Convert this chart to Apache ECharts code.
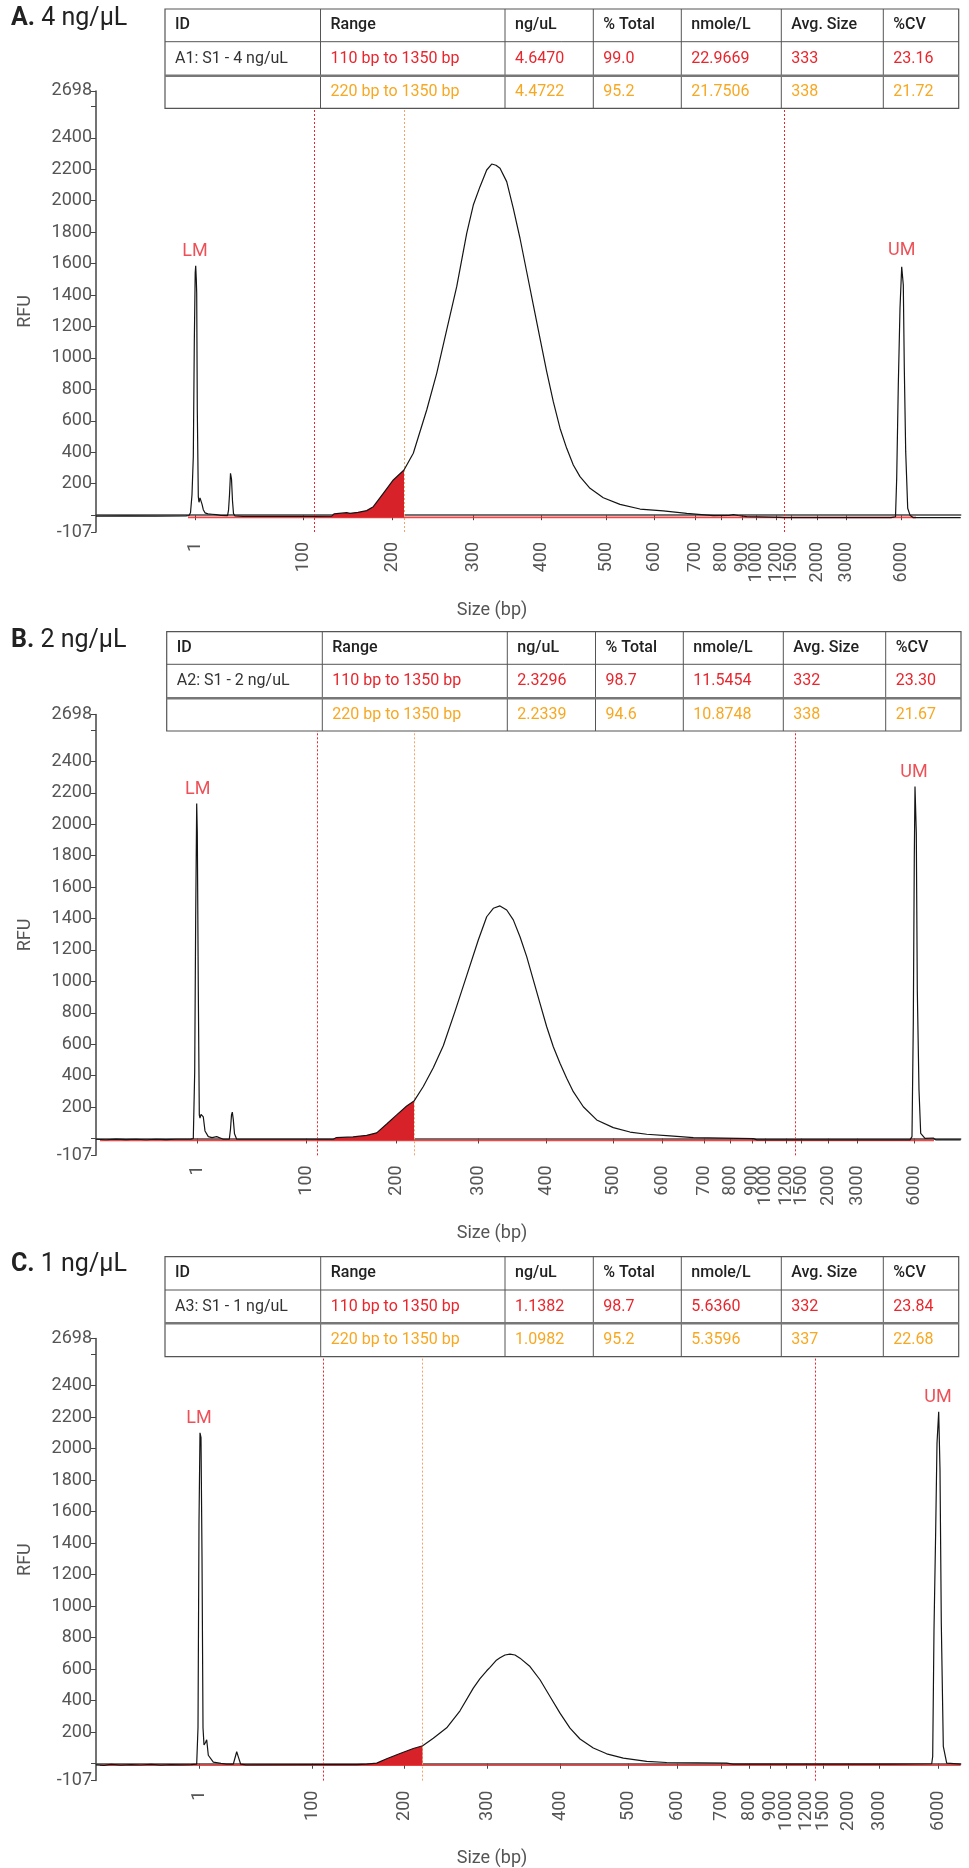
<!DOCTYPE html>
<html><head><meta charset="utf-8">
<script src="https://cdn.jsdelivr.net/npm/echarts@6/dist/echarts.min.js"></script>
<style>html,body{margin:0;padding:0;background:#fff}#c{width:969px;height:1868px}</style>
</head><body><div id="c"></div>
<script>
// ---------------- DATA ----------------
// size ladder labels (bp) and their migration positions in each run
const sizeLabels = ['1','100','200','300','400','500','600','700','800','900','1000','1200','1500','2000','3000','6000'];
const ladderA = [99,207.3,296.3,377.3,445,510,558,599,625.3,646.3,660,680,695.7,721.7,750,805.7];
const ladderB = [101.7,210,300.7,382.3,450,517.3,566,608,634.7,656,669.7,690,705.7,732.3,761.7,818];
const ladderC = [103,216.3,308.3,391.3,464,532.7,581.7,625.3,653.3,674.7,690,710,727.3,752.7,783.3,842];

// region markers: 110 bp, 220 bp, 1350 bp (migration positions)
const markersA = [218.3,308,688.3];
const markersB = [221.3,318,699];
const markersC = [227.3,326.7,719.3];

// electropherogram traces [migration, RFU]
const traceA = [[0,-6],[30,-5],[60,-6],[90,-5],[93,-2],[94.5,15],[96,130],[97.3,372],[98.3,1095],[99.2,1540],[99.7,1586],[100.3,1500],[100.7,1413],[101.3,669],[102.3,118],[103,82],[104,110],[105,100],[106,70],[107.3,35],[109,15],[112,8],[116,6],[118,12],[120,4],[125,-2],[131.5,-3],[132.5,30],[133.5,130],[134.5,266],[135.5,230],[136.5,90],[137.5,10],[139,-5],[147,-8],[200,-8],[218.3,-8],[235.7,-6],[238,8],[250.7,16],[254,12],[262,18],[270.7,29],[277.3,54],[287.3,139],[297.3,224],[308,287],[317.3,394],[330.7,669],[340.7,902],[350.7,1178],[360.7,1453],[370.7,1792],[377.3,1972],[384,2089],[390.7,2195],[395.7,2233],[400,2225],[404,2206],[410.7,2121],[417.3,1951],[424,1761],[430.7,1548],[437.3,1337],[444,1125],[450.7,913],[457.3,722],[464,553],[470.7,425],[477.3,319],[484,245],[494,171],[507.3,111],[524,69],[544,39],[567.3,27],[590.7,12],[617.3,-3],[633,-2],[637.3,4],[642,-2],[650.7,-9],[684,-14],[686,-8],[688.3,-16],[700,-16],[795,-16],[799.5,-10],[800.7,235],[802.3,828],[804,1316],[805.7,1580],[806.3,1591],[807.3,1464],[808.3,934],[809.7,404],[811.7,44],[814,0],[817.3,-16],[864.7,-16]];
const traceB = [[0,-5],[10,-8],[20,-4],[30,-7],[40,-5],[50,-8],[60,-5],[70,-7],[80,-5],[95,-4],[97.3,0],[98.7,423],[99.7,1422],[100.7,2131],[101.3,1945],[102.3,945],[103.3,150],[104,130],[105,154],[107.3,137],[109,48],[112.3,12],[116,5],[120.7,12],[127.3,-5],[133.3,-5],[134.5,60],[135.5,150],[136.3,168],[137.3,120],[138.5,30],[140.7,-5],[200,-5],[221.3,-5],[237.3,-5],[240,5],[257,10],[270.7,20],[280.7,36],[290.7,92],[300.7,150],[310.7,207],[318,238],[327.3,331],[337.3,450],[347.3,590],[359,809],[370.7,1036],[382.3,1263],[390.7,1411],[397.3,1465],[404,1480],[410.7,1454],[417.3,1391],[424,1284],[430.7,1157],[437.3,1009],[444,860],[450.7,711],[457.3,584],[464,479],[470.7,383],[477.3,298],[487.3,202],[500.7,118],[517.3,69],[534,41],[550.7,27],[574,16],[597.3,5],[657.3,-1],[661,-9],[814,-9],[816,12],[817.3,735],[818.3,1793],[819,2239],[820.3,1942],[821.3,945],[823,309],[824.7,33],[829,1],[837.3,3],[840,-9],[864.7,-9]];
const traceC = [[0,-7],[8,-10],[15,-4],[25,-9],[35,-5],[45,-8],[55,-4],[65,-9],[75,-5],[85,-7],[95,-5],[100.7,-2],[102,228],[103,1533],[104,2100],[105,2070],[106,1316],[107,228],[108,119],[109.5,135],[110.7,152],[112.3,54],[117.3,10],[125,2],[130.7,-3],[137.3,-3],[138.7,30],[140.7,76],[142,50],[144.7,-3],[150,-7],[227.3,-6],[260.7,-6],[261.5,5],[262.5,-6],[270.7,-3],[280.7,4],[290.7,32],[304,65],[317.3,97],[326.7,114],[337.3,162],[350.7,228],[364,336],[377.3,480],[384,540],[390.7,590],[394,612],[400,655],[404,672],[409,690],[414,696],[419,690],[424,670],[434,617],[444,533],[454,427],[464,321],[474,226],[484,157],[497.3,100],[510.7,63],[527.3,36],[550.7,15],[570.7,8],[630.7,4],[637,-2],[794,-2],[795,4],[796,-2],[835.7,0],[836.7,46],[838,850],[839.7,1484],[841,2034],[842.7,2234],[844,1865],[845.3,892],[847.3,110],[850.7,4],[864.7,-3]];

// analysis baselines [migration, RFU]
const baselineA = [[92,-14],[820,-14]];
const baselineB = [[4,-12],[838,-12]];
const baselineC = [[4,-10],[864.7,-10]];

// marker peak labels [name, migration, RFU]
const peaksA = [['LM',99,1586],['UM',805.7,1591]];
const peaksB = [['LM',101.7,2131],['UM',818,2239]];
const peaksC = [['LM',103,2104],['UM',842,2234]];

// y axis ticks
const yTicks = [-107,0,200,400,600,800,1000,1200,1400,1600,1800,2000,2200,2400,2600,2698];
const yLabels = [-107,200,400,600,800,1000,1200,1400,1600,1800,2000,2200,2400,2698];

// tables
const tableHeader = ['ID','Range','ng/uL','% Total','nmole/L','Avg. Size','%CV'];
const tableA = [['A1: S1 - 4 ng/uL','110 bp to 1350 bp','4.6470','99.0','22.9669','333','23.16'],
                ['','220 bp to 1350 bp','4.4722','95.2','21.7506','338','21.72']];
const tableB = [['A2: S1 - 2 ng/uL','110 bp to 1350 bp','2.3296','98.7','11.5454','332','23.30'],
                ['','220 bp to 1350 bp','2.2339','94.6','10.8748','338','21.67']];
const tableC = [['A3: S1 - 1 ng/uL','110 bp to 1350 bp','1.1382','98.7','5.6360','332','23.84'],
                ['','220 bp to 1350 bp','1.0982','95.2','5.3596','337','22.68']];
const panelTitles = [['A.','4 ng/μL'],['B.','2 ng/μL'],['C.','1 ng/μL']];

// ---------------- LAYOUT ----------------
const FONT = 'Roboto, "Noto Sans", sans-serif';
const RED = '#e8262d', ORANGE = '#f7a823', AXIS = '#454545', LABEL = '#555';
const panels = [
  {title: panelTitles[0], ladder: ladderA, markers: markersA, trace: traceA, base: baselineA, peaks: peaksA, table: tableA,
   grid: {top: 90.9, height: 441.1}, titleY: 21, sizeY: 610,
   cols: [165,320.5,505,593.3,681.3,781.3,883.3,958.7], rows: [9,41.7,75.7,108.3]},
  {title: panelTitles[1], ladder: ladderB, markers: markersB, trace: traceB, base: baselineB, peaks: peaksB, table: tableB,
   grid: {top: 714.5, height: 440.8}, titleY: 643, sizeY: 1233,
   cols: [166.7,322.3,507.3,595.5,683.3,783.3,885.7,961], rows: [631.7,664.3,698.3,731]},
  {title: panelTitles[2], ladder: ladderC, markers: markersC, trace: traceC, base: baselineC, peaks: peaksC, table: tableC,
   grid: {top: 1338.6, height: 442}, titleY: 1267, sizeY: 1858,
   cols: [165,320.7,505,593.3,681.3,781.3,883.3,958.7], rows: [1256.7,1290,1323.3,1356.7]}
];

const grids = [], xAxes = [], yAxes = [], series = [], graphics = [];
panels.forEach((p, i) => {
  grids.push({left: 96, width: 864.7, top: p.grid.top, height: p.grid.height, outerBoundsMode: 'none', containLabel: false});
  const ladder = p.ladder;
  xAxes.push({
    gridIndex: i, type: 'value', min: 0, max: 864.7,
    axisLine: {show: true, lineStyle: {color: AXIS, width: 1.5}},
    axisTick: {show: true, customValues: ladder, length: 5, lineStyle: {color: AXIS, width: 1}},
    axisLabel: {show: true, customValues: ladder, rotate: 90, margin: 10, fontSize: 18, color: LABEL, fontFamily: FONT,
      formatter: v => { const k = ladder.findIndex(q => Math.abs(q - v) < 1e-6); return k >= 0 ? sizeLabels[k] : ''; }},
    splitLine: {show: false}
  });
  yAxes.push({
    gridIndex: i, type: 'value', min: -107, max: 2698,
    name: 'RFU', nameLocation: 'middle', nameGap: 62, nameTextStyle: {fontSize: 18, color: LABEL, fontFamily: FONT},
    axisLine: {show: true, lineStyle: {color: AXIS, width: 1.5}},
    axisTick: {show: true, customValues: yTicks, length: 5, lineStyle: {color: AXIS, width: 1}},
    axisLabel: {show: true, customValues: yLabels, margin: 4, fontSize: 18, color: LABEL, fontFamily: FONT,
      formatter: v => String(v)},
    splitLine: {show: false}
  });
  // baseline
  series.push({type: 'line', xAxisIndex: i, yAxisIndex: i, data: p.base, symbol: 'none', silent: true,
    lineStyle: {color: 'rgba(238,40,40,0.85)', width: 1.6}, z: 2});
  // red filled region between 110 bp and 220 bp markers, filled down to the baseline
  const baseVal = p.base[0][1];
  const fillPts = p.trace.filter(d => d[0] >= p.markers[0] && d[0] <= p.markers[1]);
  series.push({type: 'line', xAxisIndex: i, yAxisIndex: i, symbol: 'none', silent: true,
    data: fillPts, lineStyle: {opacity: 0, width: 0},
    areaStyle: {color: '#d8222a', opacity: 1, origin: baseVal}, z: 3});
  // trace + region markers
  series.push({type: 'line', xAxisIndex: i, yAxisIndex: i, data: p.trace, symbol: 'none', silent: true,
    lineStyle: {color: '#151515', width: 1.2}, z: 5,
    markLine: {silent: true, symbol: 'none', label: {show: false}, animation: false,
      data: [
        {xAxis: p.markers[0], lineStyle: {color: RED, type: [2, 2], width: 1}},
        {xAxis: p.markers[1], lineStyle: {color: '#f5a16a', type: [2, 2], width: 1}},
        {xAxis: p.markers[2], lineStyle: {color: RED, type: [2, 2], width: 1}}
      ]}});
  // LM / UM labels
  series.push({type: 'scatter', xAxisIndex: i, yAxisIndex: i, silent: true, symbolSize: 2,
    itemStyle: {color: 'rgba(0,0,0,0)'},
    data: p.peaks.map(d => ({name: d[0], value: [d[1], d[2]]})),
    label: {show: true, formatter: '{b}', position: 'top', distance: 4, color: RED, fontSize: 18, fontFamily: FONT}, z: 6});

  // panel title
  graphics.push({type: 'text', left: 11, top: p.titleY - 15, z: 100,
    style: {text: '{b|' + p.title[0] + '} ' + p.title[1], fontSize: 25, fontFamily: FONT, fill: '#222',
      rich: {b: {fontWeight: 'bold', fontSize: 25, fontFamily: FONT, fill: '#222'}}}});
  // x axis title
  graphics.push({type: 'text', x: 492, y: p.sizeY, z: 100,
    style: {text: 'Size (bp)', fontSize: 18, fontFamily: FONT, fill: LABEL, align: 'center', verticalAlign: 'middle'}});
  // table
  const c = p.cols, r = p.rows;
  graphics.push({type: 'rect', z: 100, shape: {x: c[0], y: r[0], width: c[7] - c[0], height: r[3] - r[0]},
    style: {fill: '#fff', stroke: '#555', lineWidth: 1.2}});
  for (let k = 1; k < 7; k++) {
    graphics.push({type: 'line', z: 101, shape: {x1: c[k], y1: r[0], x2: c[k], y2: r[3]}, style: {stroke: '#555', lineWidth: 1}});
  }
  graphics.push({type: 'line', z: 101, shape: {x1: c[0], y1: r[1], x2: c[7], y2: r[1]}, style: {stroke: '#555', lineWidth: 1}});
  graphics.push({type: 'line', z: 101, shape: {x1: c[0], y1: r[2], x2: c[7], y2: r[2]}, style: {stroke: '#777', lineWidth: 2.5}});
  const rowsText = [tableHeader].concat(p.table);
  rowsText.forEach((row, ri) => {
    row.forEach((t, ci) => {
      if (!t) return;
      let fill = '#222', weight = 'normal';
      if (ri === 0) { weight = 500; }
      else if (ci === 0) { fill = '#333'; }
      else fill = ri === 1 ? RED : ORANGE;
      graphics.push({type: 'text', z: 102, x: c[ci] + 10, y: (r[ri] + r[ri + 1]) / 2,
        style: {text: t, fontSize: 16, fontFamily: FONT, fontWeight: weight, fill: fill, verticalAlign: 'middle', align: 'left'}});
    });
  });
});

const chart = echarts.init(document.getElementById('c'), null, {renderer: 'canvas'});
chart.setOption({
  animation: false,
  backgroundColor: '#fff',
  textStyle: {fontFamily: FONT},
  grid: grids, xAxis: xAxes, yAxis: yAxes, series: series, graphic: graphics
});
</script></body></html>
